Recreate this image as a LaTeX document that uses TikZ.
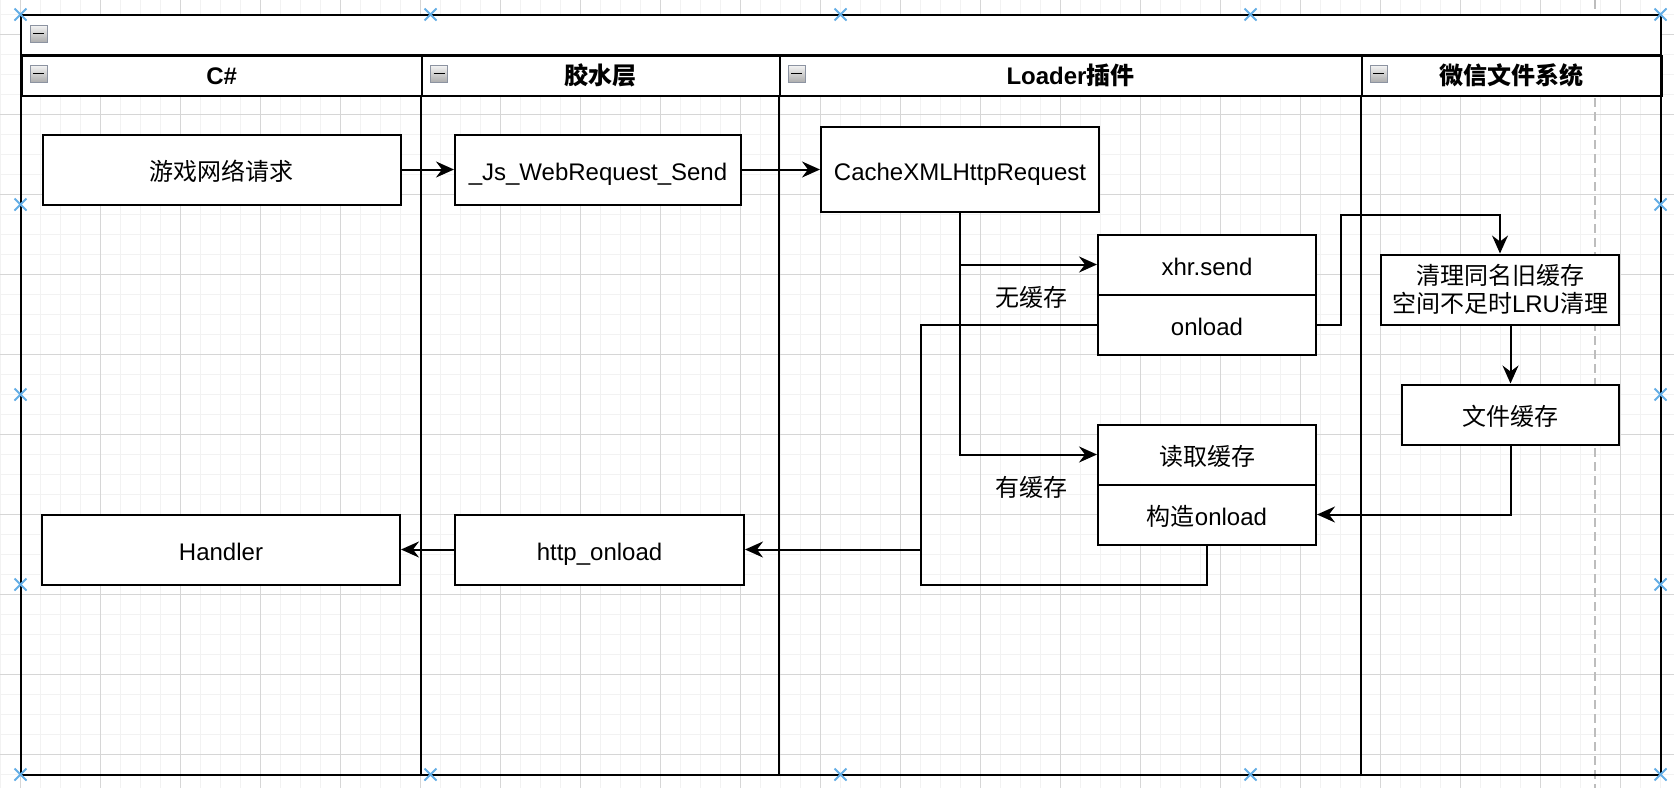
\documentclass[tikz,border=0pt]{standalone}
\usepackage{fontspec}
\setmainfont{Liberation Sans}
\newfontfamily\cjkfont{Noto Sans CJK SC}
\usetikzlibrary{arrows.meta,shapes.misc}

\definecolor{gridminor}{HTML}{F2F2F2}
\definecolor{gridmajor}{HTML}{D6D6D6}
\definecolor{pageline}{HTML}{BDBDBD}
\definecolor{iconedge}{HTML}{8C93A1}
\definecolor{handleblue}{HTML}{64AEE6}

\tikzset{every picture/.style={line width=2pt}}
\tikzset{
  txt/.style={font=\fontsize{24}{28.5}\selectfont},
  stepbox/.style={txt, draw, fill=white, inner sep=0pt, align=center},
  oneline/.style={text height=24pt, text depth=3pt},
  lanehead/.style={draw, fill=white, font=\fontsize{24}{28.5}\selectfont\bfseries, minimum height=40pt, inner sep=0pt,
    text height=20pt, text depth=2pt, anchor=north west},
  flow/.style={-{Stealth[length=18pt,width=16pt,inset=6pt]}},
  collapse/.style={draw=iconedge, line width=1pt, top color=black!4, bottom color=black!32, minimum size=17pt, inner sep=0pt,
    path picture={\draw[black,line width=1.8pt] ([xshift=-5.5pt]path picture bounding box.center) -- ([xshift=5.5pt]path picture bounding box.center);}},
  handle/.style={cross out, draw=handleblue, line width=2pt, minimum size=10pt, inner sep=0pt},
}

\begin{document}
\begin{tikzpicture}[x=1pt,y=1pt,yscale=-1,xscale=1]
\useasboundingbox (0,0) rectangle (1674,788);
\fill[white] (0,0) rectangle (1674,788);

%Grid
\foreach \gx in {0.5,20.5,...,1674} \draw[gridminor,line width=1.5pt] (\gx,0) -- (\gx,788);
\foreach \gy in {14.5,34.5,...,788} \draw[gridminor,line width=1.5pt] (0,\gy) -- (1674,\gy);
\foreach \gx in {20.5,100.5,...,1674} \draw[gridmajor,line width=1pt] (\gx,0) -- (\gx,788);
\foreach \gy in {34.5,114.5,...,788} \draw[gridmajor,line width=1pt] (0,\gy) -- (1674,\gy);

%Page break
\draw[pageline,dash pattern=on 9pt off 5pt,line width=1.5pt] (1595,0) -- (1595,788);

%Pool and lanes
\draw[fill=white] (20.5,14.5) rectangle (1660.5,54.5);
\node[lanehead, minimum width=400.5pt] (laneCs) at (20.5,54.5) {C\#};
\node[lanehead, minimum width=357.5pt] (laneGlue) at (421,54.5) {\cjkfont 胶水层};
\node[lanehead, minimum width=582pt] (laneLoader) at (778.5,54.5) {Loader{\cjkfont 插件}};
\node[lanehead, minimum width=300pt] (laneWx) at (1360.5,54.5) {\cjkfont 微信文件系统};
\draw (20.5,14.5) rectangle (1660.5,774.5);
\foreach \lx in {421,778.5,1360.5} \draw (\lx,94.5) -- (\lx,774.5);

%Collapse icons
\node[collapse] (ico0) at (38.5,33.5) {};
\foreach \ix [count=\ii] in {38.5,439,796.5,1378.5} \node[collapse] (ico\ii) at (\ix,73.5) {};

% Text Node
\node[stepbox, oneline, minimum width=358pt, minimum height=70pt] (gamereq) at (221.5,169.5) {\cjkfont 游戏网络请求};
\node[stepbox, oneline, minimum width=286pt, minimum height=70pt] (jssend) at (598,169.5) {\_Js\_WebRequest\_Send};
\node[stepbox, oneline, minimum width=278pt, minimum height=85pt] (cachexhr) at (960,169.5) {CacheXMLHttpRequest};
\node[stepbox, oneline, minimum width=218pt, minimum height=60pt] (xhrsend) at (1207,264.5) {xhr.send};
\node[stepbox, oneline, minimum width=218pt, minimum height=60pt] (xhronload) at (1207,324.5) {onload};
\node[stepbox, oneline, minimum width=218pt, minimum height=60pt] (readcache) at (1207,454.5) {\cjkfont 读取缓存};
\node[stepbox, oneline, minimum width=218pt, minimum height=60pt] (makeonload) at (1207,514.5) {{\cjkfont 构造}onload};
\node[stepbox, minimum width=238pt, minimum height=70pt] (cleanold) at (1500,289.5) {{\cjkfont 清理同名旧缓存}\\{\cjkfont 空间不足时}LRU{\cjkfont 清理}};
\node[stepbox, oneline, minimum width=217pt, minimum height=60pt] (filecache) at (1510.5,414.5) {\cjkfont 文件缓存};
\node[stepbox, oneline, minimum width=358pt, minimum height=70pt] (handler) at (221,549.5) {Handler};
\node[stepbox, oneline, minimum width=289pt, minimum height=70pt] (httponload) at (599.5,549.5) {http\_onload};

% Edge labels
\node[txt, oneline] (nocache) at (1031,296) {\cjkfont 无缓存};
\node[txt, oneline] (hascache) at (1031,486) {\cjkfont 有缓存};

\coordinate (merge) at (921,549.5);
\coordinate (loopcorner) at (921,584.5);
\coordinate (bend) at (1341,214.5);

%Connectors
\draw[flow] (gamereq.east) -- (jssend.west);
\draw[flow] (jssend.east) -- (cachexhr.west);
\draw[flow] (cachexhr.south) |- (xhrsend.west);
\draw[flow] (cachexhr.south) |- (readcache.west);
\draw[flow] (xhronload.west) -| (merge) -- (httponload.east);
\draw (makeonload.south) |- (loopcorner) -- (merge);
\draw[flow] (xhronload.east) -| (bend) -| (cleanold.north);
\draw[flow] (cleanold.south -| filecache.north) -- (filecache.north);
\draw[flow] (filecache.south) |- (makeonload.east);
\draw[flow] (httponload.west) -- (handler.east);

%Handles
\foreach \hx [count=\hi] in {20.5,430.5,840.5,1250.5,1660.5} {
  \node[handle] (htop\hi) at (\hx,14.5) {};
  \node[handle] (hbot\hi) at (\hx,774.5) {};
}
\foreach \hy [count=\hi] in {204.5,394.5,584.5} {
  \node[handle] (hleft\hi) at (20.5,\hy) {};
  \node[handle] (hright\hi) at (1660.5,\hy) {};
}

\end{tikzpicture}
\end{document}
